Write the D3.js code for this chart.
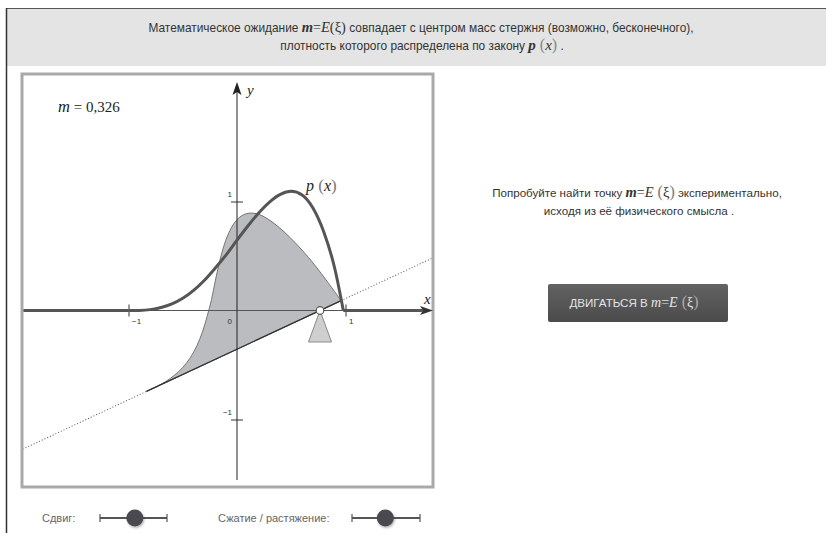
<!DOCTYPE html>
<html><head><meta charset="utf-8">
<script src="https://cdn.jsdelivr.net/npm/d3@7"></script>
<style>
body{margin:0;background:#fff}
svg{display:block}
.ui{font-family:"Liberation Sans",Arial,sans-serif}
.math{font-family:"Liberation Serif","DejaVu Serif",serif;font-style:italic}
</style>
</head><body>
<svg id="c" width="826" height="533"></svg>
<script>
// density p(x) sampled over its support
const sampleX  = [-1.0,-0.9,-0.8,-0.7,-0.6,-0.5,-0.4,-0.3,-0.2,-0.1,0.0,0.1,0.2,0.3,0.4,0.5,0.6,0.7,0.8,0.9,0.98];
const densityP = [0,0.001,0.008,0.027,0.06,0.112,0.185,0.278,0.39,0.51,0.645,0.775,0.895,0.995,1.065,1.093,1.06,0.94,0.72,0.39,0];
const fulcrumX = 0.765;      // where the rod is supported
const tiltDeg = 25;          // rod tilt around the support
const massCenter = 0.326;    // m = E(ξ)
const xTickValues = [-1, 1];
const yTickValues = [-1, 1];
const sliderLabels = ["Сдвиг:", "Сжатие / растяжение:"];
const sliderValues = [0.52, 0.49];

const svg = d3.select("#c");
const defs = svg.append("defs");

// page chrome
svg.append("rect").attr("x",6).attr("y",8).attr("width",820).attr("height",58).attr("fill","#e4e4e4");
svg.append("line").attr("x1",6).attr("x2",826).attr("y1",8.5).attr("y2",8.5).attr("stroke","#555").attr("stroke-width",1);
svg.append("line").attr("x1",6.5).attr("x2",6.5).attr("y1",8).attr("y2",533).attr("stroke","#333").attr("stroke-width",1.5);

function mathLine(sel, parts){
  parts.forEach(p=>{
    const t = sel.append("tspan").text(p.t);
    if(p.m){ t.attr("class","math").attr("font-size",p.fs||14); if(p.b) t.attr("font-weight","bold"); }
    if(p.u){ t.attr("font-family","Liberation Serif,serif").attr("font-style","normal").attr("font-size",p.fs||14).attr("fill",p.c||"#333"); }
  });
}

const head = svg.append("g").attr("class","ui").attr("font-size",11.9).attr("fill","#333").attr("text-anchor","middle");
mathLine(head.append("text").attr("x",421).attr("y",32), [
  {t:"Математическое ожидание "},{t:"m",m:1,b:1,fs:14.5},{t:"=",u:1},{t:"E",m:1,fs:14.5},{t:"(ξ)",u:1,fs:14.5},
  {t:" совпадает с центром масс стержня (возможно, бесконечного),"}]);
mathLine(head.append("text").attr("x",422).attr("y",50), [
  {t:"плотность которого распределена по закону "},{t:"p",m:1,b:1,fs:15},{t:" (",u:1,fs:16,c:"#888"},{t:"x",m:1,fs:15},{t:")",u:1,fs:16,c:"#888"},{t:" ."}]);

// plot
const x = d3.scaleLinear().domain([-1,1]).range([128.5,345.5]);
const y = d3.scaleLinear().domain([-1,1]).range([419.5,201.5]);
const frame = {x0:22, y0:74, x1:433, y1:487};
const xMin = x.invert(frame.x0+1.5), xArrow = x.invert(433);
const yAxisBottom = y.invert(480), yArrow = y.invert(82);

svg.append("rect").attr("x",frame.x0).attr("y",frame.y0).attr("width",frame.x1-frame.x0).attr("height",frame.y1-frame.y0)
  .attr("fill","#fff").attr("stroke","#a9a9a9").attr("stroke-width",3);

defs.append("clipPath").attr("id","fr").append("rect")
  .attr("x",frame.x0+1.5).attr("y",frame.y0+1.5).attr("width",frame.x1-frame.x0-3).attr("height",frame.y1-frame.y0-3);

const support = sampleX.map((v,i)=>[v,densityP[i]]);
const fx = x(fulcrumX), fy = y(0);

// tilted rod with its density drawn on it
const clipG = svg.append("g").attr("clip-path","url(#fr)");
const rod = clipG.append("g").attr("transform",`rotate(${-tiltDeg},${fx},${fy})`);
rod.append("line").attr("x1",fx-700).attr("x2",fx+700).attr("y1",fy).attr("y2",fy)
  .attr("stroke","#555").attr("stroke-width",1).attr("stroke-dasharray","1,2");
rod.append("path").datum(support)
  .attr("d",d3.area().x(d=>x(d[0])).y0(fy).y1(d=>y(d[1])).curve(d3.curveMonotoneX))
  .attr("fill","#bbbcbf").attr("stroke","#6a6a6a").attr("stroke-width",0.8);
rod.append("line").attr("x1",x(sampleX[0])).attr("x2",x(sampleX[sampleX.length-1])).attr("y1",fy).attr("y2",fy)
  .attr("stroke","#333").attr("stroke-width",1.3);

// axes
const tickFmt = d3.format("d");
const xAxis = svg.append("g").attr("transform",`translate(0,${fy})`)
  .call(d3.axisBottom(x).tickValues(xTickValues).tickFormat(tickFmt).tickSizeInner(6).tickSizeOuter(0));
xAxis.select(".domain").remove();
xAxis.selectAll(".tick line").attr("y1",-6).attr("y2",6).attr("stroke","#333");
xAxis.selectAll(".tick text").attr("x",3).attr("y",13).attr("dy",0).attr("text-anchor","start")
  .attr("font-family","Liberation Sans,Arial,sans-serif").attr("font-size",8).attr("fill","#333");
svg.append("line").attr("x1",x(xMin)).attr("x2",x(xArrow)-6).attr("y1",fy).attr("y2",fy).attr("stroke","#555").attr("stroke-width",1);

const yAxis = svg.append("g").attr("transform",`translate(${x(0)},0)`)
  .call(d3.axisLeft(y).tickValues(yTickValues).tickFormat(tickFmt).tickSizeInner(6).tickSizeOuter(0));
yAxis.select(".domain").remove();
yAxis.selectAll(".tick line").attr("x1",-6).attr("x2",6).attr("stroke","#333");
yAxis.selectAll(".tick text").attr("x",-5).attr("y",-5).attr("dy",0).attr("text-anchor","end")
  .attr("font-family","Liberation Sans,Arial,sans-serif").attr("font-size",8).attr("fill","#333");
svg.append("line").attr("x1",x(0)).attr("x2",x(0)).attr("y1",y(yAxisBottom)).attr("y2",y(yArrow)+6).attr("stroke","#222").attr("stroke-width",1);

svg.append("text").attr("x",x(0)-5).attr("y",fy+13).attr("text-anchor","end")
  .attr("font-family","Liberation Sans,Arial,sans-serif").attr("font-size",8).attr("fill","#333").text("0");

// arrowheads
const ax = x(xArrow), ay = y(yArrow);
svg.append("path").attr("d",`M${ax},${fy} L${ax-13},${fy-4.5} L${ax-10},${fy} L${ax-13},${fy+4.5}Z`).attr("fill","#333");
svg.append("path").attr("d",`M${x(0)},${ay} L${x(0)-4.5},${ay+13} L${x(0)},${ay+10} L${x(0)+4.5},${ay+13}Z`).attr("fill","#222");

// density curve and the zero parts outside its support
const pLine = d3.line().x(d=>x(d[0])).y(d=>y(d[1])).curve(d3.curveMonotoneX);
const zLine = d3.line().x(d=>x(d[0])).y(d=>y(d[1]));
const pStyle = s=>s.attr("fill","none").attr("stroke","#555").attr("stroke-width",3).attr("stroke-linecap","butt");
svg.append("path").datum([[xMin,0],[sampleX[0],0]]).attr("d",zLine).call(pStyle);
svg.append("path").datum([[sampleX[sampleX.length-1],0],[x.invert(x(xArrow)-10),0]]).attr("d",zLine).call(pStyle);
svg.append("path").datum(support).attr("d",pLine).call(pStyle).attr("stroke-linejoin","round");

// support
svg.append("path").attr("d",`M${fx},${fy} L${fx-11.5},${fy+31.5} L${fx+11.5},${fy+31.5}Z`)
  .attr("fill","#cfcfcf").attr("stroke","#8a8a8a").attr("stroke-width",1);
svg.append("circle").attr("cx",fx).attr("cy",fy).attr("r",3.8).attr("fill","#fff").attr("stroke","#555").attr("stroke-width",1.2);

// labels
const lbl = svg.append("g").attr("fill","#222");
lbl.append("text").attr("class","math").attr("x",247).attr("y",95).attr("font-size",15).text("y");
lbl.append("text").attr("class","math").attr("x",424).attr("y",304).attr("font-size",15).text("x");
mathLine(lbl.append("text").attr("x",306).attr("y",191), [
  {t:"p",m:1,fs:16},{t:" (",u:1,fs:17,c:"#777"},{t:"x",m:1,fs:16},{t:")",u:1,fs:17,c:"#777"}]);
const mt = lbl.append("text").attr("x",58).attr("y",112).attr("font-family","Liberation Serif,serif").attr("font-size",15);
mt.append("tspan").attr("font-style","italic").attr("font-size",16.5).text("m");
mt.append("tspan").text(" = " + d3.format(".3f")(massCenter).replace(".",","));

// right panel
const rp = svg.append("g").attr("class","ui").attr("font-size",11.6).attr("fill","#333").attr("text-anchor","middle");
mathLine(rp.append("text").attr("x",637).attr("y",197), [
  {t:"Попробуйте найти точку "},{t:"m",m:1,b:1,fs:14.5},{t:"=",u:1},{t:"E",m:1,fs:14.5},{t:" (",u:1,fs:16,c:"#777"},{t:"ξ",u:1,fs:14.5},{t:")",u:1,fs:16,c:"#777"},
  {t:"  экспериментально,"}]);
rp.append("text").attr("x",639).attr("y",215).text("исходя из её физического смысла .");

const grad = defs.append("linearGradient").attr("id","bt").attr("x1",0).attr("x2",0).attr("y1",0).attr("y2",1);
grad.append("stop").attr("offset",0).attr("stop-color","#626262");
grad.append("stop").attr("offset",1).attr("stop-color","#4b4b4b");
svg.append("rect").attr("x",548).attr("y",284).attr("width",180).attr("height",38).attr("rx",2).attr("fill","url(#bt)");
const bt = svg.append("text").attr("class","ui").attr("x",634).attr("y",307).attr("text-anchor","middle").attr("font-size",11.6).attr("fill","#e4e4e4");
mathLine(bt, [{t:"ДВИГАТЬСЯ В "},{t:"m",m:1,fs:14},{t:"=",u:1,c:"#e4e4e4"},{t:"E",m:1,fs:14},{t:" (",u:1,fs:16,c:"#aaa"},{t:"ξ",u:1,fs:14,c:"#e4e4e4"},{t:")",u:1,fs:16,c:"#aaa"}]);

// sliders
const sh = defs.append("filter").attr("id","ks").attr("x","-50%").attr("y","-50%").attr("width","200%").attr("height","200%");
sh.append("feDropShadow").attr("dx",1).attr("dy",1.5).attr("stdDeviation",1.2).attr("flood-color","#000").attr("flood-opacity",0.3);
const sliders = [{lx:42, x0:100, x1:167},{lx:218, x0:352, x1:420}];
sliders.forEach((s,i)=>{
  const sx = d3.scaleLinear().domain([0,1]).range([s.x0,s.x1]);
  const g = svg.append("g");
  g.append("text").attr("class","ui").attr("x",s.lx).attr("y",522).attr("font-size",11).attr("fill","#666").text(sliderLabels[i]);
  g.append("line").attr("x1",s.x0).attr("x2",s.x1).attr("y1",518).attr("y2",518).attr("stroke","#555").attr("stroke-width",2);
  [s.x0,s.x1].forEach(e=>g.append("line").attr("x1",e).attr("x2",e).attr("y1",514).attr("y2",522).attr("stroke","#555").attr("stroke-width",1.2));
  g.append("circle").attr("cx",sx(sliderValues[i])).attr("cy",518).attr("r",8.5).attr("fill","#4a4a50").attr("filter","url(#ks)");
});
</script>
</body></html>
